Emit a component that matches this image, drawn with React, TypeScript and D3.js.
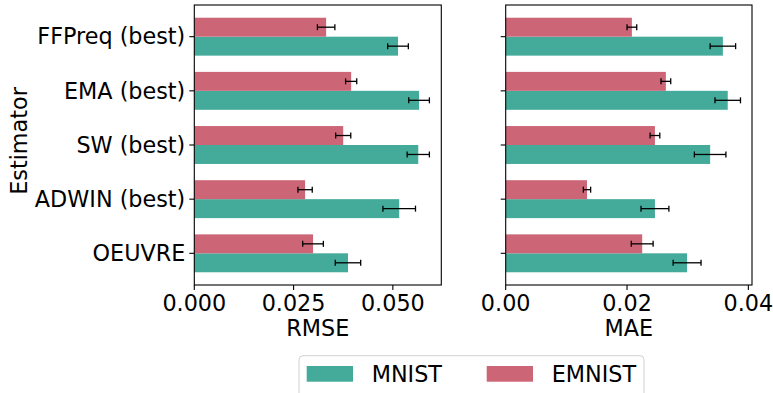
import * as d3 from "d3";
import React, { useEffect, useRef } from "react";

// estimators, listed bottom to top as they sit on the y axis
const estimators = ["OEUVRE", "ADWIN (best)", "SW (best)", "EMA (best)", "FFPreq (best)"];
const datasets = ["MNIST", "EMNIST"];

const rmseMnist = [0.0387, 0.0516, 0.0564, 0.0566, 0.0513];
const rmseMnistErr = [0.0032, 0.0041, 0.0028, 0.0026, 0.0026];
const rmseEmnist = [0.0299, 0.0279, 0.0375, 0.0395, 0.0332];
const rmseEmnistErr = [0.0026, 0.0018, 0.0019, 0.0014, 0.0022];

const maeMnist = [0.0299, 0.0246, 0.0337, 0.0366, 0.0358];
const maeMnistErr = [0.0023, 0.0023, 0.0026, 0.0021, 0.0021];
const maeEmnist = [0.0225, 0.0134, 0.0246, 0.0264, 0.0208];
const maeEmnistErr = [0.0018, 0.0006, 0.0008, 0.0008, 0.0008];

const rmseTicks = [0, 0.025, 0.05];
const maeTicks = [0, 0.02, 0.04];

const colors = { MNIST: "#44AA99", EMNIST: "#CC6677" };
const FONT = "DejaVu Sans, sans-serif";
const FS = 22.3;
const barH = 0.35;

export default function App() {
  const svgRef = useRef<SVGSVGElement>(null);

  useEffect(() => {
    document.body.style.margin = "0";
    const svg = d3.select(svgRef.current);
    svg.selectAll("*").remove();

    const top = 5;
    const bottom = 285;
    const y = d3.scaleLinear().domain([-0.585, 4.585]).range([bottom, top]);

    const panels = [
      {
        x0: 194.3, x1: 441.3, domain: [0, 0.0622], ticks: rmseTicks, fmt: d3.format(".3f"), label: "RMSE",
        mnist: rmseMnist, mnistErr: rmseMnistErr, emnist: rmseEmnist, emnistErr: rmseEmnistErr, showLabels: true,
      },
      {
        x0: 505.7, x1: 752, domain: [0, 0.0406], ticks: maeTicks, fmt: d3.format(".2f"), label: "MAE",
        mnist: maeMnist, mnistErr: maeMnistErr, emnist: maeEmnist, emnistErr: maeEmnistErr, showLabels: false,
      },
    ];

    panels.forEach((p) => {
      const x = d3.scaleLinear().domain(p.domain).range([p.x0, p.x1]);
      const g = svg.append("g");

      const series = [
        { vals: p.mnist, errs: p.mnistErr, color: colors.MNIST, off: -barH },
        { vals: p.emnist, errs: p.emnistErr, color: colors.EMNIST, off: 0 },
      ];

      series.forEach((s) => {
        g.selectAll(null)
          .data(s.vals)
          .join("rect")
          .attr("x", x(0))
          .attr("y", (_, i) => y(i + s.off + barH))
          .attr("width", (d) => x(d) - x(0))
          .attr("height", y(0) - y(barH))
          .attr("fill", s.color);

        s.vals.forEach((v, i) => {
          const cy = y(i + s.off + barH / 2);
          const lo = x(v - s.errs[i]);
          const hi = x(v + s.errs[i]);
          g.append("line").attr("x1", lo).attr("x2", hi).attr("y1", cy).attr("y2", cy)
            .attr("stroke", "#000").attr("stroke-width", 1.3);
          [lo, hi].forEach((cx) =>
            g.append("line").attr("x1", cx).attr("x2", cx).attr("y1", cy - 3).attr("y2", cy + 3)
              .attr("stroke", "#000").attr("stroke-width", 1.3)
          );
        });
      });

      // frame
      g.append("rect")
        .attr("x", p.x0).attr("y", top)
        .attr("width", p.x1 - p.x0).attr("height", bottom - top)
        .attr("fill", "none").attr("stroke", "#000").attr("stroke-width", 1.1);

      // x axis ticks
      p.ticks.forEach((t) => {
        g.append("line").attr("x1", x(t)).attr("x2", x(t)).attr("y1", bottom).attr("y2", bottom + 5)
          .attr("stroke", "#000").attr("stroke-width", 1.1);
        g.append("text").attr("x", x(t)).attr("y", 311).attr("text-anchor", "middle")
          .attr("font-family", FONT).attr("font-size", FS).text(p.fmt(t));
      });
      g.append("text").attr("x", (p.x0 + p.x1) / 2).attr("y", 336).attr("text-anchor", "middle")
        .attr("font-family", FONT).attr("font-size", FS).text(p.label);

      // y axis ticks
      estimators.forEach((name, i) => {
        g.append("line").attr("x1", p.x0 - 5).attr("x2", p.x0).attr("y1", y(i)).attr("y2", y(i))
          .attr("stroke", "#000").attr("stroke-width", 1.1);
        if (p.showLabels) {
          g.append("text").attr("x", p.x0 - 9).attr("y", y(i)).attr("dy", "0.35em")
            .attr("text-anchor", "end").attr("font-family", FONT).attr("font-size", FS).text(name);
        }
      });
    });

    svg.append("text")
      .attr("transform", `translate(26.5, 141) rotate(-90)`)
      .attr("text-anchor", "middle").attr("font-family", FONT).attr("font-size", FS).text("Estimator");

    // legend
    const lg = svg.append("g");
    lg.append("rect").attr("x", 299).attr("y", 355.7).attr("width", 345).attr("height", 50).attr("rx", 4)
      .attr("fill", "#fff").attr("fill-opacity", 0.8).attr("stroke", "#d0d0d0").attr("stroke-width", 1);
    const legendX = [306.7, 486.7];
    datasets.forEach((ds, i) => {
      lg.append("rect").attr("x", legendX[i]).attr("y", 366).attr("width", 46.3).attr("height", 15.7)
        .attr("fill", colors[ds as keyof typeof colors]);
      lg.append("text").attr("x", legendX[i] + 65).attr("y", 382).attr("font-family", FONT)
        .attr("font-size", FS).text(ds);
    });
  }, []);

  return <svg ref={svgRef} width={773} height={393} style={{ display: "block" }} />;
}
